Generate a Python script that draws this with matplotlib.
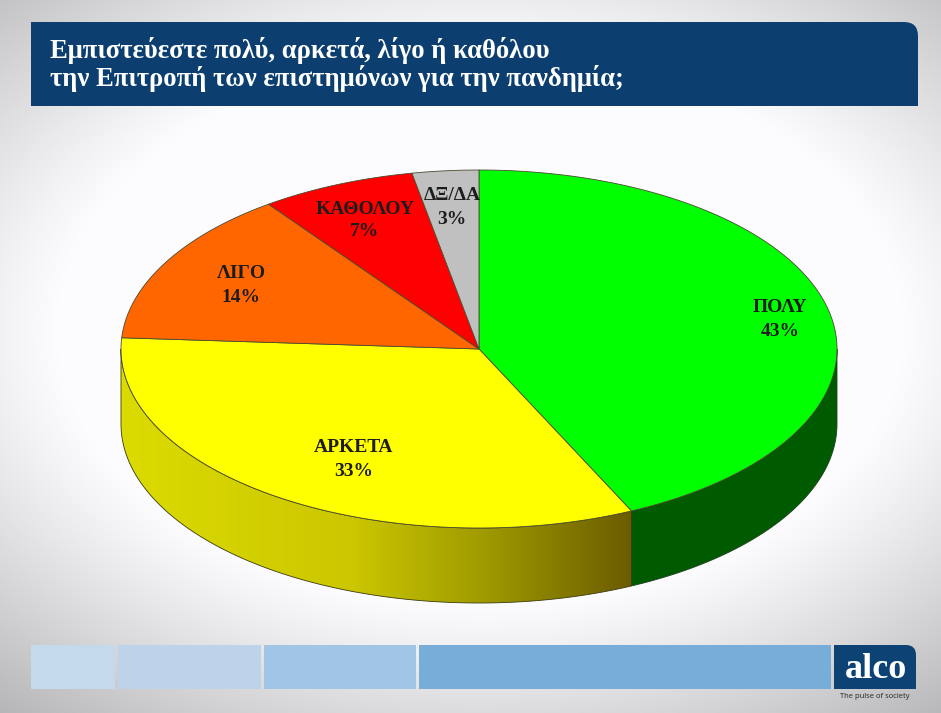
import numpy as np
import matplotlib
matplotlib.use('Agg')
import matplotlib.pyplot as plt
from matplotlib.patches import Rectangle, PathPatch, Polygon
from matplotlib.path import Path

categories = ['ΠΟΛΥ', 'ΑΡΚΕΤΑ', 'ΛΙΓΟ', 'ΚΑΘΟΛΟΥ', 'ΔΞ/ΔΑ']
values = [43, 33, 14, 7, 3]
colors = ['#00ff00', '#ffff00', '#ff6600', '#ff0000', '#c0c0c0']
label_x = [780, 354, 241, 365, 452]
label_y = [308, 448, 274, 209, 196]
title_lines = ['Εμπιστεύεστε πολύ, αρκετά, λίγο ή καθόλου',
               'την Επιτροπή των επιστημόνων για την πανδημία;']
footer_x = [31, 118, 264, 419]
footer_w = [84, 143, 152, 412]
footer_colors = ['#c3daed', '#bcd3ea', '#a0c5e6', '#78acd9']

W, H = 941, 713
CX, CY, RX, RY, DEPTH = 479, 349, 358, 179, 75


def rim(a0, a1, n=200):
    # angles clockwise from the top of the pie, in degrees
    t = np.radians(np.linspace(a0, a1, n))
    return CX + RX*np.sin(t), CY - RY*np.cos(t)


def gradient(ax, x0, x1, y0, y1, stops, clip):
    xs = np.linspace(0, 1, 256)
    img = np.stack([np.interp(xs, [s[0] for s in stops], [s[1][i] for s in stops])
                    for i in range(3)], axis=-1)[None, :, :]
    im = ax.imshow(img, extent=(x0, x1, y1, y0), aspect='auto', zorder=2)
    im.set_clip_path(clip)


plt.rcParams['font.family'] = ['Liberation Serif', 'DejaVu Serif']
fig = plt.figure(figsize=(W/100, H/100), dpi=100)
ax = fig.add_axes([0, 0, 1, 1])

# slide background, light middle fading to grey at the edges
yy, xx = np.mgrid[0:H, 0:W]
d = np.sqrt(((xx-480)/600.0)**2 + ((yy-330)/390.0)**2)
bg = 1.0 - 0.30*np.clip((d-0.70)/0.60, 0, 1)**1.1
ax.imshow(np.dstack([bg*0.99, bg*0.99, bg]), extent=(0, W, H, 0), aspect='auto', zorder=0)

# title band with rounded top right corner
band = Path([(31, 22), (904, 22), (918, 22), (918, 36), (918, 106), (31, 106), (31, 22)],
            [Path.MOVETO, Path.LINETO, Path.CURVE3, Path.CURVE3, Path.LINETO, Path.LINETO, Path.CLOSEPOLY])
ax.add_patch(PathPatch(band, fc='#0c3f70', ec='none', zorder=1))
for txt, y in zip(title_lines, [50, 79]):
    ax.text(50, y, txt, color='white', fontsize=19.2, fontweight='bold', ha='left', va='center', zorder=3)

# pie side walls
cum = np.cumsum([0] + values) * 3.6
xa, ya = rim(90, cum[1])
green_side = Polygon(np.r_[np.c_[xa, ya], np.c_[xa[::-1], ya[::-1]+DEPTH]], fc='#005a00', ec='#204020', lw=0.6, zorder=2)
ax.add_patch(green_side)

xb, yb = rim(cum[1], 270)
yellow_side = Polygon(np.r_[np.c_[xb, yb], np.c_[xb[::-1], yb[::-1]+DEPTH]], fc='none', ec='none', transform=ax.transData)
ax.add_patch(yellow_side)
gradient(ax, 121, xb[0], 330, 610,
         [(0, (0.86, 0.86, 0.0)), (0.45, (0.80, 0.78, 0.0)), (0.72, (0.62, 0.60, 0.0)), (1, (0.42, 0.36, 0.0))],
         yellow_side)
ax.add_patch(Polygon(np.r_[np.c_[xb, yb], np.c_[xb[::-1], yb[::-1]+DEPTH]], fc='none', ec='#3a3a10', lw=0.6, zorder=3))

# top face
for i, c in enumerate(colors):
    x, y = rim(cum[i], cum[i+1])
    ax.add_patch(Polygon(np.r_[[[CX, CY]], np.c_[x, y]], fc=c, ec='#4a4a30', lw=0.6, zorder=4))

# labels
for name, v, x, y in zip(categories, values, label_x, label_y):
    ax.text(x, y, name, color='#1c1c1c', fontsize=14, fontweight='bold', ha='center', va='center', zorder=5)
    ax.text(x, y+23, '%d%%' % v, color='#1c1c1c', fontsize=14, fontweight='bold', ha='center', va='center', zorder=5)

# footer strip and logo
for x, w, c in zip(footer_x, footer_w, footer_colors):
    ax.add_patch(Rectangle((x, 645), w, 44, fc=c, ec='none', zorder=1))
logo = Path([(834, 645), (906, 645), (916, 645), (916, 655), (916, 689), (834, 689), (834, 645)],
            [Path.MOVETO, Path.LINETO, Path.CURVE3, Path.CURVE3, Path.LINETO, Path.LINETO, Path.CLOSEPOLY])
ax.add_patch(PathPatch(logo, fc='#0c4274', ec='none', zorder=1))
ax.text(876, 669, 'alco', color='white', fontsize=26, fontweight='bold', ha='center', va='center', zorder=3)
ax.text(875, 696, 'The pulse of society', color='#222222', fontsize=5.5, ha='center', va='center',
        family=['Open Sans', 'DejaVu Sans'], zorder=3)

ax.set_xlim(0, W)
ax.set_ylim(H, 0)
ax.axis('off')
fig.savefig('out.png', dpi=100)
